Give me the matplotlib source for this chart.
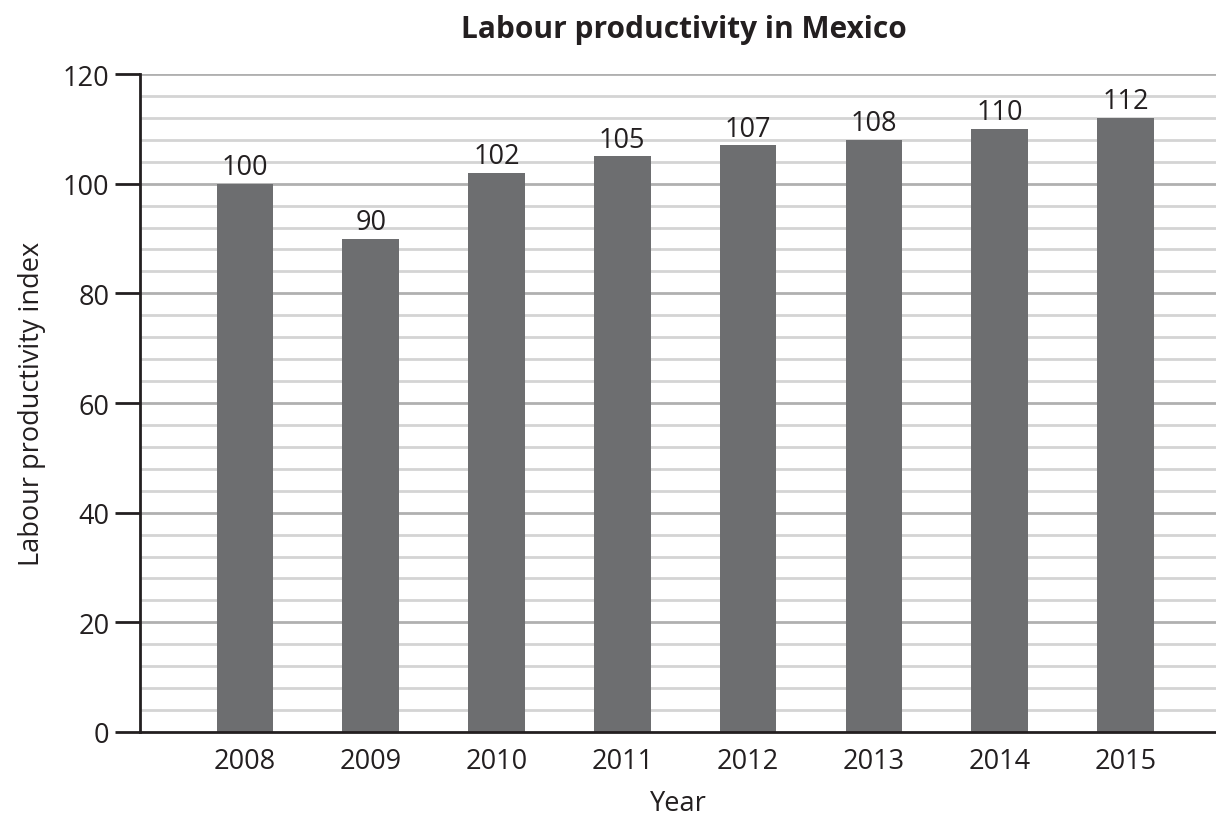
import matplotlib.pyplot as plt
import numpy as np

plt.rcParams["font.family"] = ["Open Sans", "DejaVu Sans"]

years = ["2008", "2009", "2010", "2011", "2012", "2013", "2014", "2015"]
index_values = [100, 90, 102, 105, 107, 108, 110, 112]

fig = plt.figure(figsize=(12.16, 8.2), dpi=100)
ax = fig.add_axes([0.1151, 0.1061, 0.8849, 0.8024])

x = np.arange(len(years))

# light grid every 4, darker every 20
for y in range(4, 121, 4):
    if y % 20 == 0:
        ax.axhline(y, color="#b0b0b0", lw=2, zorder=0)
    else:
        ax.axhline(y, color="#d4d4d4", lw=2, zorder=0)

bars = ax.bar(x, index_values, width=0.45, color="#6d6e70", zorder=2)
for xi, v in zip(x, index_values):
    ax.text(xi, v + 0.5, str(v), ha="center", va="bottom", fontsize=19.5, color="#231f20")

ax.set_xlim(-0.835, len(years) - 1 + 0.72)
ax.set_ylim(0, 120)
ax.set_yticks(range(0, 121, 20))
ax.set_xticks(x)
ax.set_xticklabels(years)

for side in ["top", "right"]:
    ax.spines[side].set_visible(False)
ax.spines["left"].set_color("#231f20")
ax.spines["left"].set_linewidth(2)
ax.spines["bottom"].set_color("#231f20")
ax.spines["bottom"].set_linewidth(2)
ax.tick_params(axis="y", length=18, width=2, color="#231f20", labelsize=19.5, labelcolor="#231f20", pad=4)
ax.tick_params(axis="x", length=0, labelsize=19.5, labelcolor="#231f20", pad=11)

ax.set_xlabel("Year", fontsize=19.5, color="#231f20", labelpad=10)
ax.set_ylabel("Labour productivity index", fontsize=19.5, color="#231f20", labelpad=12)
fig.text(0.562, 0.963, "Labour productivity in Mexico", ha="center", va="center",
         fontsize=21.5, fontweight="bold", color="#231f20")

fig.savefig("out.png", dpi=100)
